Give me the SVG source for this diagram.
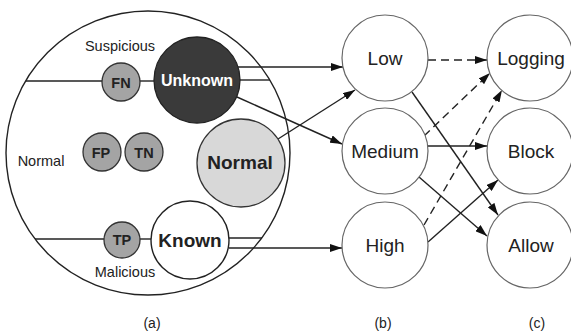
<svg xmlns="http://www.w3.org/2000/svg" width="571" height="333" viewBox="0 0 571 333">
  <style>
    text { font-family: "Liberation Sans", Arial, sans-serif; fill: #222; text-anchor: middle; }
    .lbl { font-size: 14.5px; }
    .big { font-size: 19px; }
    .bold { font-weight: bold; }
    .sm { font-size: 14.5px; font-weight: bold; }
    .cap { font-size: 14px; }
    .node { fill: #fff; stroke: #666; stroke-width: 1.2; }
    .grey { fill: #a4a4a4; stroke: #333; stroke-width: 1.3; }
    .edge { stroke: #222; stroke-width: 1.4; fill: none; }
    .arrow { marker-end: url(#head); }
    .dash { stroke-dasharray: 8 5; }
  </style>
  <defs>
    <marker id="head" markerUnits="userSpaceOnUse" markerWidth="12" markerHeight="8" refX="12" refY="4" orient="auto">
      <path d="M0,0 L12,4 L0,8 z" fill="#111"/>
    </marker>
  </defs>

  <rect width="571" height="333" fill="#fff"/>

  <!-- (a) region -->
  <g id="region">
    <circle cx="148" cy="153" r="142" fill="none" stroke="#222" stroke-width="1.4"/>
    <text class="lbl" x="120" y="51">Suspicious</text>
    <text class="lbl" x="41" y="166">Normal</text>
    <text class="lbl" x="125" y="277">Malicious</text>
  </g>

  <g id="connectors">
    <!-- lines inside region (a) -->
    <line class="edge" x1="26" y1="81" x2="102" y2="81"/>
    <line class="edge" x1="140" y1="81" x2="154" y2="81"/>
    <line class="edge" x1="240" y1="80" x2="270" y2="80"/>
    <line class="edge" x1="35" y1="239" x2="104" y2="239"/>
    <line class="edge" x1="140" y1="239" x2="151" y2="239"/>
    <line class="edge" x1="229" y1="238" x2="262" y2="238"/>
    <!-- (a) to (b) -->
    <line class="edge arrow" x1="238" y1="67" x2="343" y2="67"/>
    <line class="edge arrow" x1="237" y1="97" x2="342" y2="144"/>
    <line class="edge arrow" x1="278" y1="139" x2="355" y2="90"/>
    <line class="edge arrow" x1="229" y1="248" x2="342" y2="248"/>
    <!-- (b) to (c) -->
    <line class="edge arrow dash" x1="428" y1="60" x2="487" y2="60"/>
    <line class="edge arrow dash" x1="424" y1="136" x2="490" y2="73"/>
    <line class="edge arrow dash" x1="424" y1="225" x2="502" y2="90"/>
    <line class="edge arrow" x1="428" y1="146" x2="487" y2="146"/>
    <line class="edge arrow" x1="412" y1="92" x2="498" y2="215"/>
    <line class="edge arrow" x1="419" y1="177" x2="487" y2="236"/>
    <line class="edge arrow" x1="428" y1="242" x2="498" y2="180"/>
  </g>

  <g id="unknown">
    <circle cx="197" cy="80" r="43" fill="#3a3a3a" stroke="#222" stroke-width="1.3"/>
    <text class="bold" x="197" y="86" font-size="16" style="fill:#fff">Unknown</text>
  </g>
  <g id="normal">
    <circle cx="241" cy="163" r="44" fill="#d8d8d8" stroke="#333" stroke-width="1.3"/>
    <text class="big bold" x="240" y="169">Normal</text>
  </g>
  <g id="known">
    <circle cx="190" cy="240" r="39" fill="#fff" stroke="#222" stroke-width="1.4"/>
    <text class="big bold" x="190" y="247">Known</text>
  </g>
  <g id="fn">
    <circle class="grey" cx="121" cy="82" r="19"/>
    <text class="sm" x="121" y="88">FN</text>
  </g>
  <g id="fp">
    <circle class="grey" cx="102" cy="152" r="19"/>
    <text class="sm" x="101" y="158">FP</text>
  </g>
  <g id="tn">
    <circle class="grey" cx="144" cy="152" r="19"/>
    <text class="sm" x="144" y="158">TN</text>
  </g>
  <g id="tp">
    <circle class="grey" cx="122" cy="240" r="18"/>
    <text class="sm" x="122" y="245">TP</text>
  </g>

  <!-- (b) risk levels -->
  <g id="low">
    <circle class="node" cx="385" cy="58" r="43"/>
    <text class="big" x="385" y="65">Low</text>
  </g>
  <g id="medium">
    <circle class="node" cx="385" cy="151" r="43"/>
    <text class="big" x="385" y="158">Medium</text>
  </g>
  <g id="high">
    <circle class="node" cx="385" cy="245" r="43"/>
    <text class="big" x="385" y="252">High</text>
  </g>

  <!-- (c) actions -->
  <g id="logging">
    <circle class="node" cx="530" cy="58" r="43"/>
    <text class="big" x="531" y="65">Logging</text>
  </g>
  <g id="block">
    <circle class="node" cx="530" cy="151" r="43"/>
    <text class="big" x="531" y="158">Block</text>
  </g>
  <g id="allow">
    <circle class="node" cx="530" cy="245" r="43"/>
    <text class="big" x="531" y="252">Allow</text>
  </g>

  <g id="captions">
    <text class="cap" x="152" y="328">(a)</text>
    <text class="cap" x="383" y="328">(b)</text>
    <text class="cap" x="537" y="328">(c)</text>
  </g>
</svg>
